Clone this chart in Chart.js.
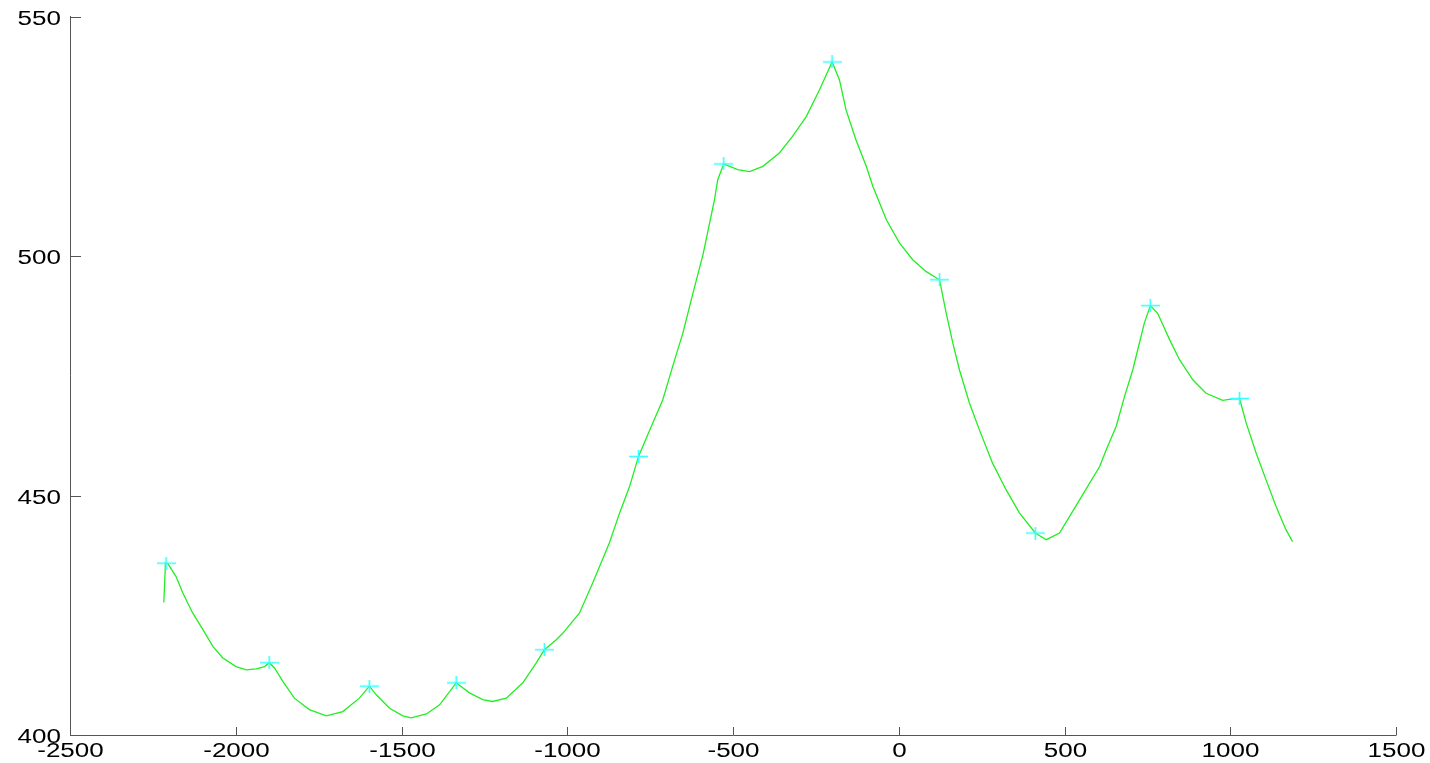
<!DOCTYPE html>
<html>
<head>
<meta charset="utf-8">
<script src="https://cdn.jsdelivr.net/npm/chart.js@4.4.0/dist/chart.umd.min.js"></script>
<style>
html,body{margin:0;padding:0;background:#fff;}
#wrap{width:1430px;height:763px;position:relative;}
</style>
</head>
<body>
<div id="wrap"><canvas id="c" width="1430" height="763"></canvas></div>
<script>
// Curve samples (x, y)
const curveX = [-2217,-2212,-2205,-2180,-2160,-2130,-2099,-2069,-2039,-1999,-1968,-1938,-1913,-1899,-1883,-1858,-1823,-1778,-1727,-1677,-1627,-1597,-1576,-1536,-1496,-1471,-1425,-1385,-1335,-1295,-1255,-1225,-1184,-1134,-1094,-1069,-1033,-1013,-963,-923,-873,-842,-812,-785,-742,-712,-682,-651,-626,-590,-556,-546,-528,-486,-450,-410,-360,-320,-279,-239,-201,-179,-159,-129,-98,-78,-37,2,42,83,123,143,163,183,213,243,283,324,364,412,445,485,540,606,626,656,681,706,726,741,759,781,817,847,887,927,977,1007,1028,1048,1078,1108,1138,1168,1188];
const curveY = [427.7,435.9,435.8,433.1,429.7,425.5,422.0,418.5,416.1,414.3,413.6,413.8,414.3,415.1,414.0,411.2,407.7,405.3,404.0,404.9,407.7,410.2,408.4,405.6,404.0,403.6,404.4,406.3,410.9,408.8,407.4,407.0,407.7,410.9,415.0,417.8,419.9,421.3,425.5,431.8,440.1,446.4,451.9,458.2,465.2,470.0,477.0,484.0,490.9,500.5,511.8,516.0,519.3,518.1,517.7,518.8,521.6,525.1,529.2,534.8,540.6,536.9,530.6,524.3,518.8,514.6,507.6,502.8,499.3,496.8,495.1,488.2,481.9,476.3,469.4,463.8,456.8,451.2,446.4,442.2,440.8,442.2,448.5,456.1,459.6,464.5,470.7,476.3,481.9,486.1,489.7,488.1,482.6,478.4,474.2,471.4,469.9,470.2,470.3,465.2,458.9,453.3,447.8,442.9,440.4];
// Marked peaks
const peakX = [-2210,-1899,-1597,-1335,-1069,-785,-528,-201,123,412,759,1028];
const peakY = [435.9,415.1,410.2,410.9,417.8,458.2,519.3,540.6,495.1,442.2,489.7,470.3];
// Axis ranges / ticks
const xTicks = [-2500,-2000,-1500,-1000,-500,0,500,1000,1500];
const yTicks = [400,450,500,550];

const curve = curveX.map((x,i)=>({x:x,y:curveY[i]}));
const peaks = peakX.map((x,i)=>({x:x,y:peakY[i]}));

// plus marker image
const mk = document.createElement('canvas');
mk.width = 19; mk.height = 13;
(function(){
  const g = mk.getContext('2d');
  g.strokeStyle = '#33ffff';
  g.lineWidth = 1.6;
  g.beginPath();
  g.moveTo(0,6.5); g.lineTo(19,6.5);
  g.moveTo(9.5,0); g.lineTo(9.5,13);
  g.stroke();
})();

const axisPlugin = {
  id:'axisPlugin',
  afterDraw(chart){
    const ctx = chart.ctx;
    const xs = chart.scales.x, ys = chart.scales.y;
    const ca = chart.chartArea;
    ctx.save();
    ctx.strokeStyle = '#555';
    ctx.lineWidth = 1;
    // axis lines
    ctx.beginPath();
    ctx.moveTo(ca.left+0.5, ca.top-1);
    ctx.lineTo(ca.left+0.5, ca.bottom+0.5);
    ctx.lineTo(ca.right+0.5, ca.bottom+0.5);
    ctx.stroke();
    ctx.fillStyle = '#000';
    ctx.font = '20px "Liberation Sans", Arial, sans-serif';
    // y ticks
    yTicks.forEach(v=>{
      const py = Math.round(ys.getPixelForValue(v))+0.5;
      ctx.beginPath();
      ctx.moveTo(ca.left, py); ctx.lineTo(ca.left+11, py); ctx.stroke();
      ctx.save();
      ctx.translate(61, py+7);
      ctx.scale(1.3,1);
      ctx.textAlign='right'; ctx.textBaseline='alphabetic';
      ctx.fillText(String(v),0,0);
      ctx.restore();
    });
    // x ticks
    xTicks.forEach(v=>{
      const px = Math.round(xs.getPixelForValue(v))+0.5;
      ctx.beginPath();
      ctx.moveTo(px, ca.bottom); ctx.lineTo(px, ca.bottom-8); ctx.stroke();
      ctx.save();
      ctx.translate(px, 757);
      ctx.scale(1.3,1);
      ctx.textAlign='center'; ctx.textBaseline='alphabetic';
      ctx.fillText(String(v),0,0);
      ctx.restore();
    });
    ctx.restore();
  }
};

new Chart(document.getElementById('c'), {
  type:'scatter',
  data:{datasets:[
    {data:curve, showLine:true, borderColor:'#22ee22', borderWidth:1.3, pointRadius:0, tension:0, order:2},
    {data:peaks, showLine:false, pointStyle:mk, pointRadius:9, order:1}
  ]},
  options:{
    responsive:false, animation:false,
    layout:{padding:{top:17,right:34,left:0,bottom:0}},
    plugins:{legend:{display:false}, tooltip:{enabled:false}},
    scales:{
      x:{type:'linear', min:-2500, max:1500,
         ticks:{display:false, stepSize:500}, grid:{display:false}, border:{display:false},
         afterFit(s){ s.height = 28; }},
      y:{type:'linear', min:400, max:550,
         ticks:{display:false, stepSize:50}, grid:{display:false}, border:{display:false},
         afterFit(s){ s.width = 70; }}
    }
  },
  plugins:[axisPlugin]
});
</script>
</body>
</html>
